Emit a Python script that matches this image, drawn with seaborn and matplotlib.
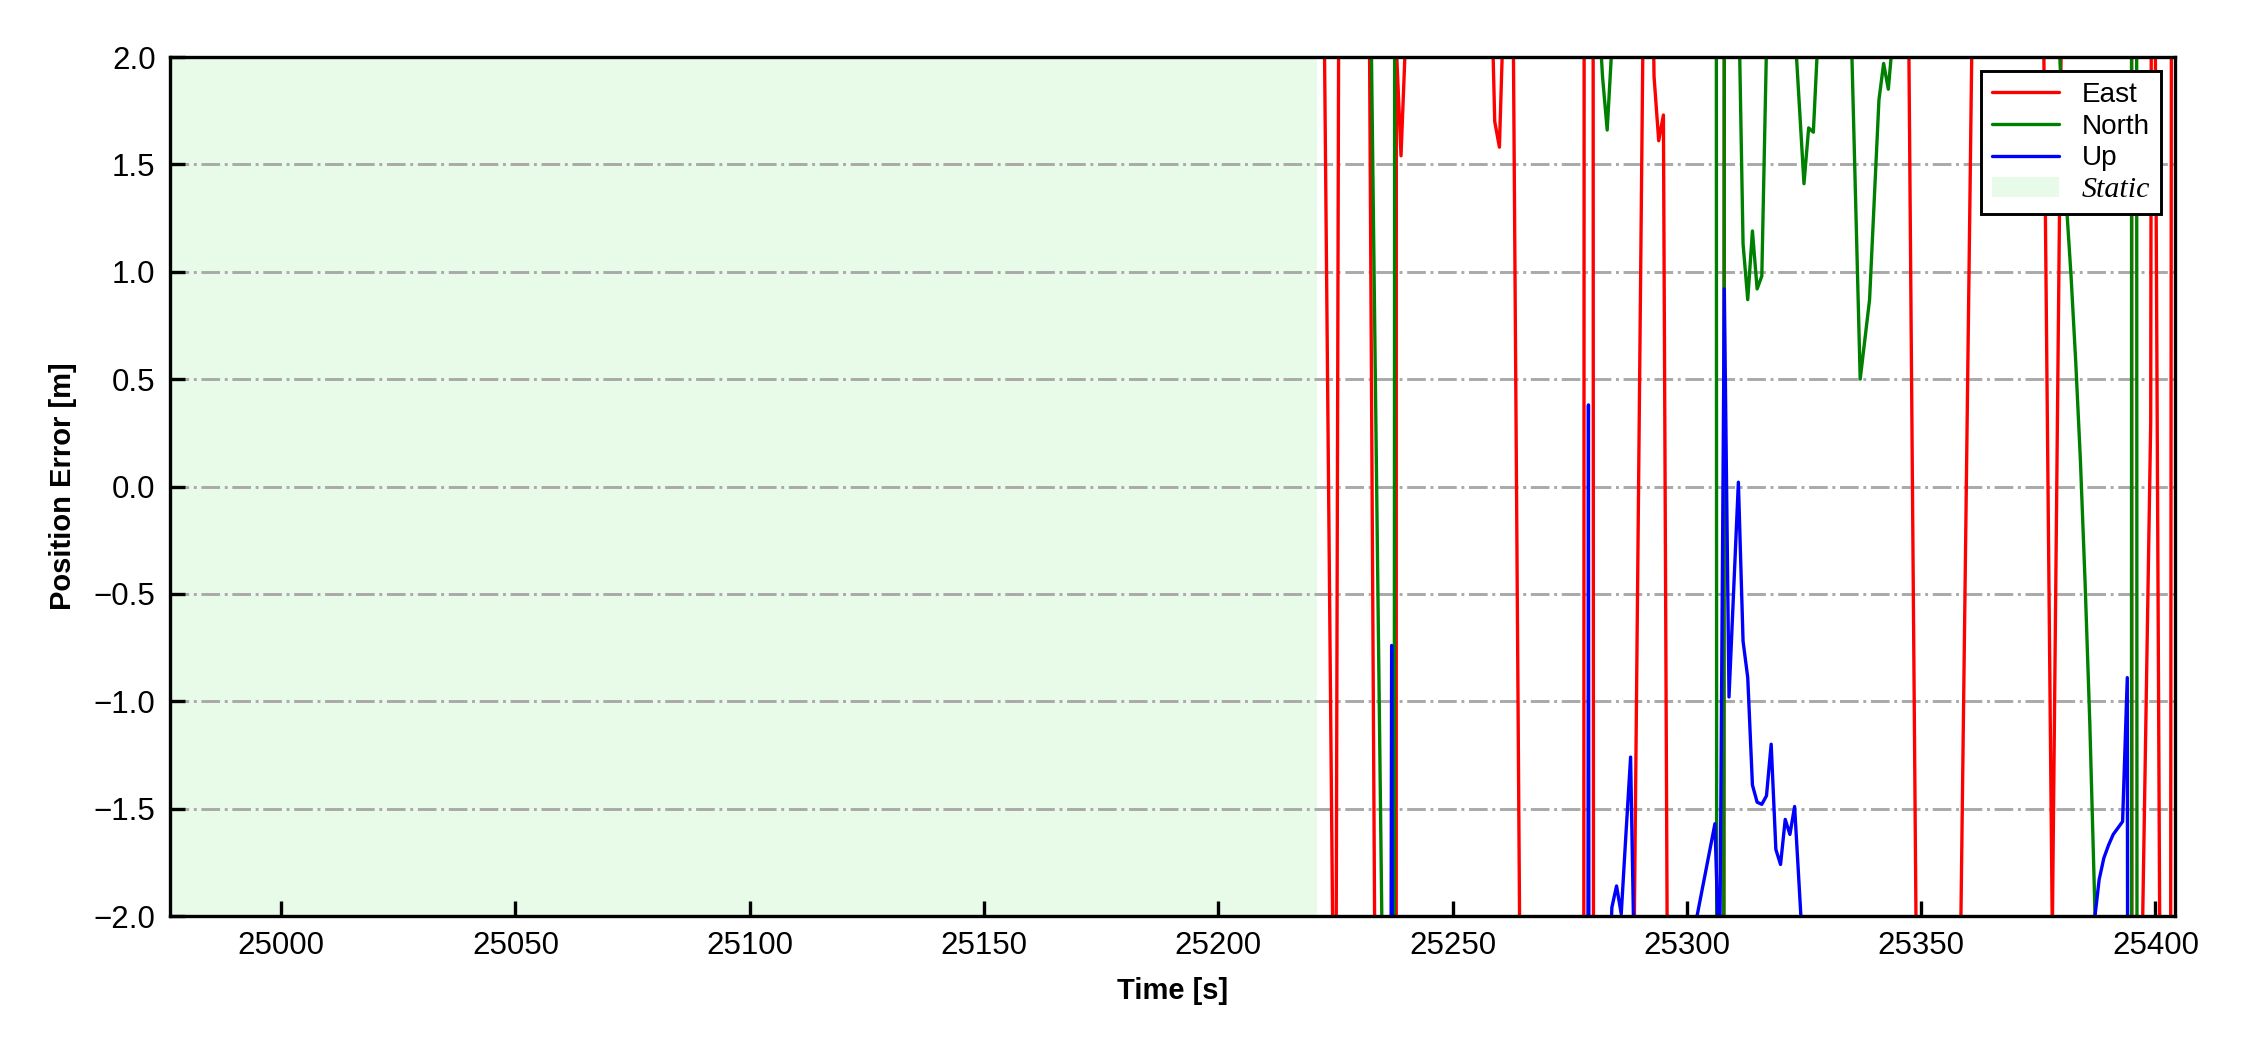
# position error plot (ENU) with static period shaded
import pandas as pd
import matplotlib.pyplot as plt
import seaborn as sns
from matplotlib.lines import Line2D

# ---- data (values outside +-2 are clipped) ----
east_t = [25222, 25225, 25226, 25232, 25234, 25237, 25238, 25239, 25240, 25241,
          25258, 25259, 25260, 25261, 25262, 25265, 25278, 25279, 25280, 25281,
          25288, 25291, 25292, 25293, 25294, 25295, 25296, 25307, 25308, 25309,
          25320, 25335, 25347, 25350, 25358, 25361, 25368, 25376, 25378, 25380,
          25385, 25394, 25395, 25397, 25399, 25399.5, 25400, 25401, 25403, 25404]
east_v = [3.6, -3.42, 4.6, 3.1, -4.4, -200, 2.05, 1.54, 2.1, 2.5,
          2.6, 1.70, 1.58, 2.3, 5.08, -4.16, -3, 60, 2.5, -60,
          -3.8, 2.9, 3.5, 1.91, 1.61, 1.73, -3.0, -40, 2.5, 3.2,
          6, 5, 3.07, -4.93, -2.87, 2.35, 6, 2.45, -2.08, 2.3,
          5, 60, -3, -2.4, 0.3, 8, 2.0, -2.4, -10, 20]

north_t = [25221, 25232, 25235, 25237, 25238, 25250, 25270, 25281, 25282, 25283,
           25284, 25285, 25306, 25307, 25308, 25309, 25310, 25311, 25312, 25313,
           25314, 25315, 25316, 25317, 25318, 25320, 25323, 25325, 25326, 25327,
           25328, 25329, 25333, 25335, 25337, 25339, 25341, 25342, 25343, 25344,
           25350, 25370, 25379, 25380, 25381, 25382, 25383, 25384, 25385, 25386,
           25387, 25388, 25390, 25394, 25395, 25396, 25397, 25404]
north_v = [4, 3.27, -2.18, -30, 20, 6, 5, 2.3, 1.91, 1.66,
           2.05, 3, 20, -40, 2.5, 3.2, 3.0, 2.35, 1.13, 0.87,
           1.19, 0.92, 0.98, 2.05, 3, 4, 2.15, 1.41, 1.67, 1.65,
           2.1, 3, 3, 2.2, 0.50, 0.87, 1.80, 1.97, 1.85, 2.1,
           5, 5, 2.3, 1.8, 1.32, 0.98, 0.58, 0.12, -0.45, -1.1,
           -1.9, -2.8, -6, -200, 20, 2.2, -60, -50]

up_t = [25221, 25236, 25237, 25238, 25278, 25279, 25280, 25283, 25284, 25285,
        25286, 25287, 25288, 25289, 25300, 25302, 25306, 25307, 25308, 25309,
        25311, 25312, 25313, 25314, 25315, 25316, 25317, 25318, 25319, 25320,
        25321, 25322, 25323, 25325, 25340, 25386, 25387, 25388, 25389, 25390,
        25391, 25392, 25393, 25394, 25395, 25404]
up_v = [-8, -12, -0.74, -12, -25, 0.38, -25, -2.6, -1.96, -1.86,
        -1.99, -1.62, -1.26, -2.5, -6, -2.02, -1.57, -2.3, 0.92, -0.98,
        0.02, -0.72, -0.89, -1.39, -1.47, -1.48, -1.44, -1.20, -1.69, -1.76,
        -1.55, -1.62, -1.49, -2.25, -8, -3.0, -2.02, -1.83, -1.73, -1.67,
        -1.62, -1.59, -1.56, -0.89, -20, -15]

static_start, static_end = 24976.3, 25221
x_ticks = [25000, 25050, 25100, 25150, 25200, 25250, 25300, 25350, 25400]
y_ticks = [-2.0, -1.5, -1.0, -0.5, 0.0, 0.5, 1.0, 1.5, 2.0]

# ---- long format frame for seaborn ----
df = pd.concat([
    pd.DataFrame({'time': east_t, 'err': east_v, 'axis': 'East'}),
    pd.DataFrame({'time': north_t, 'err': north_v, 'axis': 'North'}),
    pd.DataFrame({'time': up_t, 'err': up_v, 'axis': 'Up'}),
], ignore_index=True)
colors = {'East': 'red', 'North': 'green', 'Up': 'blue'}

sns.set_style('ticks')
plt.rcParams['font.family'] = ['Liberation Sans', 'DejaVu Sans']
plt.rcParams['text.color'] = 'black'
plt.rcParams['axes.labelcolor'] = 'black'
plt.rcParams['xtick.color'] = 'black'
plt.rcParams['ytick.color'] = 'black'

fig = plt.figure(figsize=(7.5, 3.5), dpi=300)
ax = fig.add_axes([0.0756, 0.1276, 0.8911, 0.8181])

span = ax.axvspan(static_start, static_end, color='lightgreen', alpha=0.2, lw=0, zorder=0)
sns.lineplot(data=df, x='time', y='err', hue='axis', hue_order=['East', 'North', 'Up'],
             palette=colors, estimator=None, lw=0.8, legend=False, ax=ax)

ax.set_xlim(24976.3, 25404.2)
ax.set_ylim(-2, 2)
ax.set_xticks(x_ticks)
ax.set_yticks(y_ticks)
ax.yaxis.grid(True, linestyle='-.', color='darkgray', lw=0.7)
ax.xaxis.grid(False)
ax.set_axisbelow(True)
ax.tick_params(direction='in', length=3.5, width=0.8, labelsize=7.5,
               colors='black', labelcolor='black')
for s in ax.spines.values():
    s.set_color('black')
    s.set_linewidth(0.8)

ax.set_xlabel('Time [s]', fontsize=7, fontweight='bold', color='black')
ax.set_ylabel('Position Error [m]', fontsize=7, fontweight='bold', color='black')

handles = [Line2D([], [], color=colors[k], lw=0.8) for k in ['East', 'North', 'Up']] + [span]
leg = ax.legend(handles, ['East', 'North', 'Up', 'Static'], loc='upper right',
                fancybox=False, edgecolor='black', framealpha=1, fontsize=6.7,
                labelspacing=0.2, handlelength=2.4)
leg.get_frame().set_linewidth(0.7)
for t in leg.get_texts():
    t.set_color('black')
st = leg.get_texts()[3]
st.set_fontfamily(['Liberation Serif', 'DejaVu Serif'])
st.set_fontstyle('italic')
st.set_fontsize(7.2)

fig.savefig('out.png', dpi=300)
